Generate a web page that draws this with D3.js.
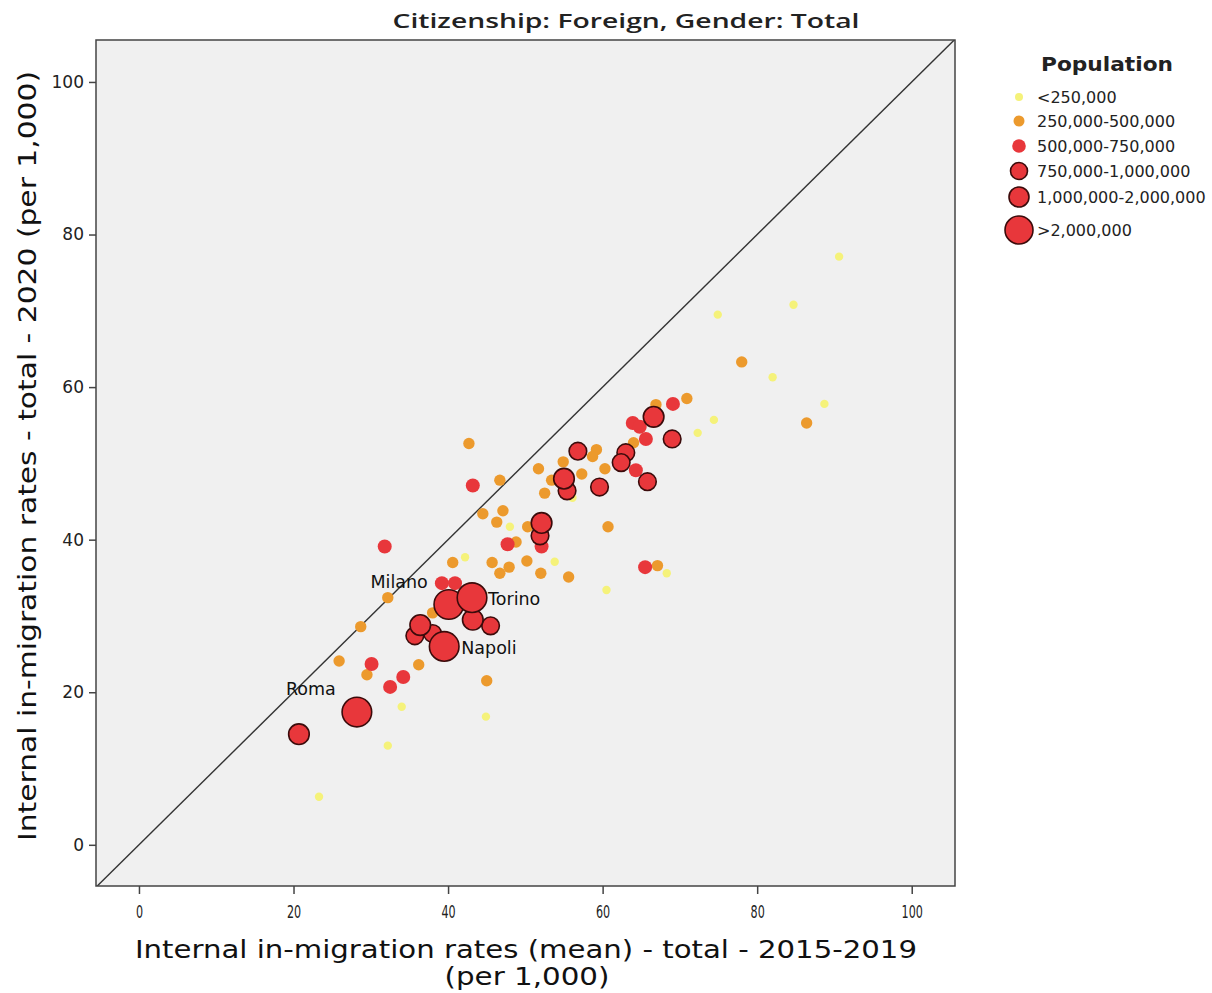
<!DOCTYPE html>
<html>
<head>
<meta charset="utf-8">
<script src="https://cdn.jsdelivr.net/npm/d3@7"></script>
<style>
  html, body { margin: 0; padding: 0; background: #ffffff; }
  svg { display: block; }
</style>
</head>
<body>
<svg id="chart" width="1212" height="993"></svg>
<script>
// ---- data: [mean rate 2015-2019, rate 2020] per 1,000, grouped by population class ----
const popClasses = ["<250,000", "250,000-500,000", "500,000-750,000",
                    "750,000-1,000,000", "1,000,000-2,000,000", ">2,000,000"];

const popUnder250k = [
  [90.6, 77.1], [84.7, 70.8], [74.9, 69.5], [82.0, 61.3], [88.7, 57.8],
  [74.4, 55.7], [72.3, 54.0], [68.3, 35.6], [60.5, 33.4], [53.8, 37.1],
  [56.1, 45.5], [48.0, 41.7], [42.2, 37.7], [44.9, 16.8], [34.0, 18.1],
  [32.2, 13.0], [23.3, 6.3]
];

const pop250to500k = [
  [78.0, 63.3], [86.4, 55.3], [70.9, 58.5], [66.9, 57.7], [64.0, 52.7],
  [59.2, 51.8], [58.7, 50.9], [60.3, 49.3], [57.3, 48.6], [54.9, 50.2],
  [51.7, 49.3], [53.4, 47.8], [52.5, 46.1], [46.7, 47.8], [42.7, 52.6],
  [44.5, 43.4], [47.1, 43.8], [46.3, 42.3], [50.3, 41.7], [48.8, 39.7],
  [60.7, 41.7], [40.6, 37.0], [45.7, 37.0], [46.7, 35.6], [47.9, 36.4],
  [50.2, 37.2], [52.0, 35.6], [55.6, 35.1], [67.1, 36.6], [32.2, 32.4],
  [28.7, 28.6], [25.9, 24.1], [29.5, 22.3], [36.2, 23.6], [45.0, 21.5],
  [38.0, 30.4]
];

const pop500to750k = [
  [69.1, 57.8], [63.9, 55.3], [64.8, 54.8], [65.6, 53.2], [64.3, 49.1],
  [43.2, 47.1], [47.7, 39.4], [52.1, 39.1], [31.8, 39.1], [65.5, 36.4],
  [39.2, 34.3], [40.9, 34.3], [30.1, 23.7], [34.2, 22.0], [32.5, 20.7]
];

const pop750kto1m = [
  [69.0, 53.2], [56.8, 51.6], [63.0, 51.4], [62.4, 50.1], [65.8, 47.6],
  [59.6, 46.9], [55.4, 46.4], [51.9, 40.5], [45.5, 28.7], [35.7, 27.4],
  [38.0, 27.7]
];

const pop1to2m = [
  [66.6, 56.1], [55.0, 48.0], [52.1, 42.2], [43.2, 29.5], [36.4, 28.8],
  [20.7, 14.5]
];

const popOver2m = [[28.2, 17.4], [40.1, 31.5], [43.1, 32.4], [39.5, 26.0]];
const popOver2mNames = ["Roma", "Milano", "Torino", "Napoli"];

const axisTicks = [0, 20, 40, 60, 80, 100];

const chartTitle = "Citizenship: Foreign, Gender: Total";
const xTitle = ["Internal in-migration rates (mean) - total - 2015-2019", "(per 1,000)"];
const yTitle = "Internal in-migration rates - total - 2020 (per 1,000)";
const legendTitle = "Population";

// ---- appearance of each population class ----
const classStyle = [
  { r: 4.2,  fill: "#f5f27a", stroke: "none" },
  { r: 5.7,  fill: "#ec9a2d", stroke: "none" },
  { r: 7.0,  fill: "#e8373b", stroke: "none" },
  { r: 8.8,  fill: "#e8373b", stroke: "#3b0b0b" },
  { r: 10.3, fill: "#e8373b", stroke: "#3b0b0b" },
  { r: 14.8, fill: "#e8373b", stroke: "#3b0b0b" }
];
const groups = [popUnder250k, pop250to500k, pop500to750k, pop750kto1m, pop1to2m, popOver2m];

// ---- layout ----
const svg = d3.select("#chart");
const frame = { left: 96, top: 40, right: 955, bottom: 886 };
const x = d3.scaleLinear().domain([-5.56, 105.6]).range([frame.left, frame.right]);
const y = d3.scaleLinear().domain([-5.4, 105.5]).range([frame.bottom, frame.top]);
const font = "'DejaVu Sans', Verdana, sans-serif";

svg.append("defs").append("clipPath").attr("id", "plotClip")
  .append("rect")
  .attr("x", frame.left).attr("y", frame.top)
  .attr("width", frame.right - frame.left).attr("height", frame.bottom - frame.top);

// plot background
svg.append("rect")
  .attr("x", frame.left).attr("y", frame.top)
  .attr("width", frame.right - frame.left).attr("height", frame.bottom - frame.top)
  .attr("fill", "#f0f0f0");

// reference line y = x
svg.append("line")
  .attr("clip-path", "url(#plotClip)")
  .attr("x1", x(-10)).attr("y1", y(-10))
  .attr("x2", x(110)).attr("y2", y(110))
  .attr("stroke", "#333").attr("stroke-width", 1.4);

// points, smallest class first so the larger cities sit on top
const plot = svg.append("g").attr("clip-path", "url(#plotClip)");
groups.forEach((pts, i) => {
  const s = classStyle[i];
  plot.append("g").selectAll("circle")
    .data(pts)
    .join("circle")
    .attr("cx", d => x(d[0]))
    .attr("cy", d => y(d[1]))
    .attr("r", s.r)
    .attr("fill", s.fill)
    .attr("stroke", s.stroke)
    .attr("stroke-width", s.stroke === "none" ? 0 : 1.6);
});

// city labels
const labelOffset = {
  Roma:   { dx: -71, dy: -23, anchor: "start" },
  Milano: { dx: -21, dy: -23, anchor: "end" },
  Torino: { dx: 16,  dy: 1,   anchor: "start" },
  Napoli: { dx: 17,  dy: 1,   anchor: "start" }
};
svg.append("g").selectAll("text")
  .data(popOver2m.map((d, i) => ({ d, name: popOver2mNames[i] })))
  .join("text")
  .attr("x", o => x(o.d[0]) + labelOffset[o.name].dx)
  .attr("y", o => y(o.d[1]) + labelOffset[o.name].dy)
  .attr("dy", "0.35em")
  .attr("text-anchor", o => labelOffset[o.name].anchor)
  .attr("font-family", font).attr("font-size", 17.5).attr("fill", "#111")
  .text(o => o.name);

// frame
svg.append("rect")
  .attr("x", frame.left).attr("y", frame.top)
  .attr("width", frame.right - frame.left).attr("height", frame.bottom - frame.top)
  .attr("fill", "none").attr("stroke", "#444").attr("stroke-width", 1.5);

// axes
const xAxis = svg.append("g")
  .attr("transform", `translate(0,${frame.bottom})`)
  .call(d3.axisBottom(x).tickValues(axisTicks).tickSize(8).tickPadding(11));
const yAxis = svg.append("g")
  .attr("transform", `translate(${frame.left},0)`)
  .call(d3.axisLeft(y).tickValues(axisTicks).tickSize(7).tickPadding(5));
[xAxis, yAxis].forEach(g => {
  g.select(".domain").remove();
  g.selectAll(".tick line").attr("stroke", "#444").attr("stroke-width", 1.5);
  g.selectAll(".tick text").attr("fill", "#222").attr("font-family", font);
});
yAxis.selectAll(".tick text").attr("font-size", 17);
// horizontal-axis numerals are narrow and tall
xAxis.selectAll(".tick text")
  .attr("font-size", 18)
  .attr("transform", "scale(0.62,1)");

// title
svg.append("text")
  .attr("x", 626).attr("y", 28)
  .attr("text-anchor", "middle")
  .attr("font-family", "'Open Sans', 'DejaVu Sans', sans-serif")
  .attr("font-size", 20).attr("font-weight", 600)
  .attr("fill", "#222")
  .attr("textLength", 467).attr("lengthAdjust", "spacingAndGlyphs")
  .text(chartTitle);

// x axis title
svg.append("text")
  .attr("x", 526).attr("y", 958)
  .attr("text-anchor", "middle")
  .attr("font-family", font).attr("font-size", 24).attr("fill", "#111")
  .attr("textLength", 782).attr("lengthAdjust", "spacingAndGlyphs")
  .text(xTitle[0]);
svg.append("text")
  .attr("x", 527).attr("y", 985)
  .attr("text-anchor", "middle")
  .attr("font-family", font).attr("font-size", 24).attr("fill", "#111")
  .attr("textLength", 165).attr("lengthAdjust", "spacingAndGlyphs")
  .text(xTitle[1]);

// y axis title
svg.append("text")
  .attr("transform", "translate(36,456) rotate(-90)")
  .attr("text-anchor", "middle")
  .attr("font-family", font).attr("font-size", 24).attr("fill", "#111")
  .attr("textLength", 770).attr("lengthAdjust", "spacingAndGlyphs")
  .text(yTitle);

// legend
const legend = svg.append("g");
legend.append("text")
  .attr("x", 1107).attr("y", 71)
  .attr("text-anchor", "middle")
  .attr("font-family", font).attr("font-size", 19).attr("font-weight", "bold")
  .attr("fill", "#222")
  .attr("textLength", 132).attr("lengthAdjust", "spacingAndGlyphs")
  .text(legendTitle);
const legendY = [97, 121, 146, 171, 197, 230];
const legendR = [4, 5.5, 6.8, 8.5, 10, 14];
popClasses.forEach((label, i) => {
  const s = classStyle[i];
  legend.append("circle")
    .attr("cx", 1019).attr("cy", legendY[i]).attr("r", legendR[i])
    .attr("fill", s.fill)
    .attr("stroke", s.stroke)
    .attr("stroke-width", s.stroke === "none" ? 0 : 1.6);
  legend.append("text")
    .attr("x", 1037).attr("y", legendY[i]).attr("dy", "0.35em")
    .attr("font-family", font)
    .attr("font-size", 16).attr("fill", "#222")
    .text(label);
});
</script>
</body>
</html>
